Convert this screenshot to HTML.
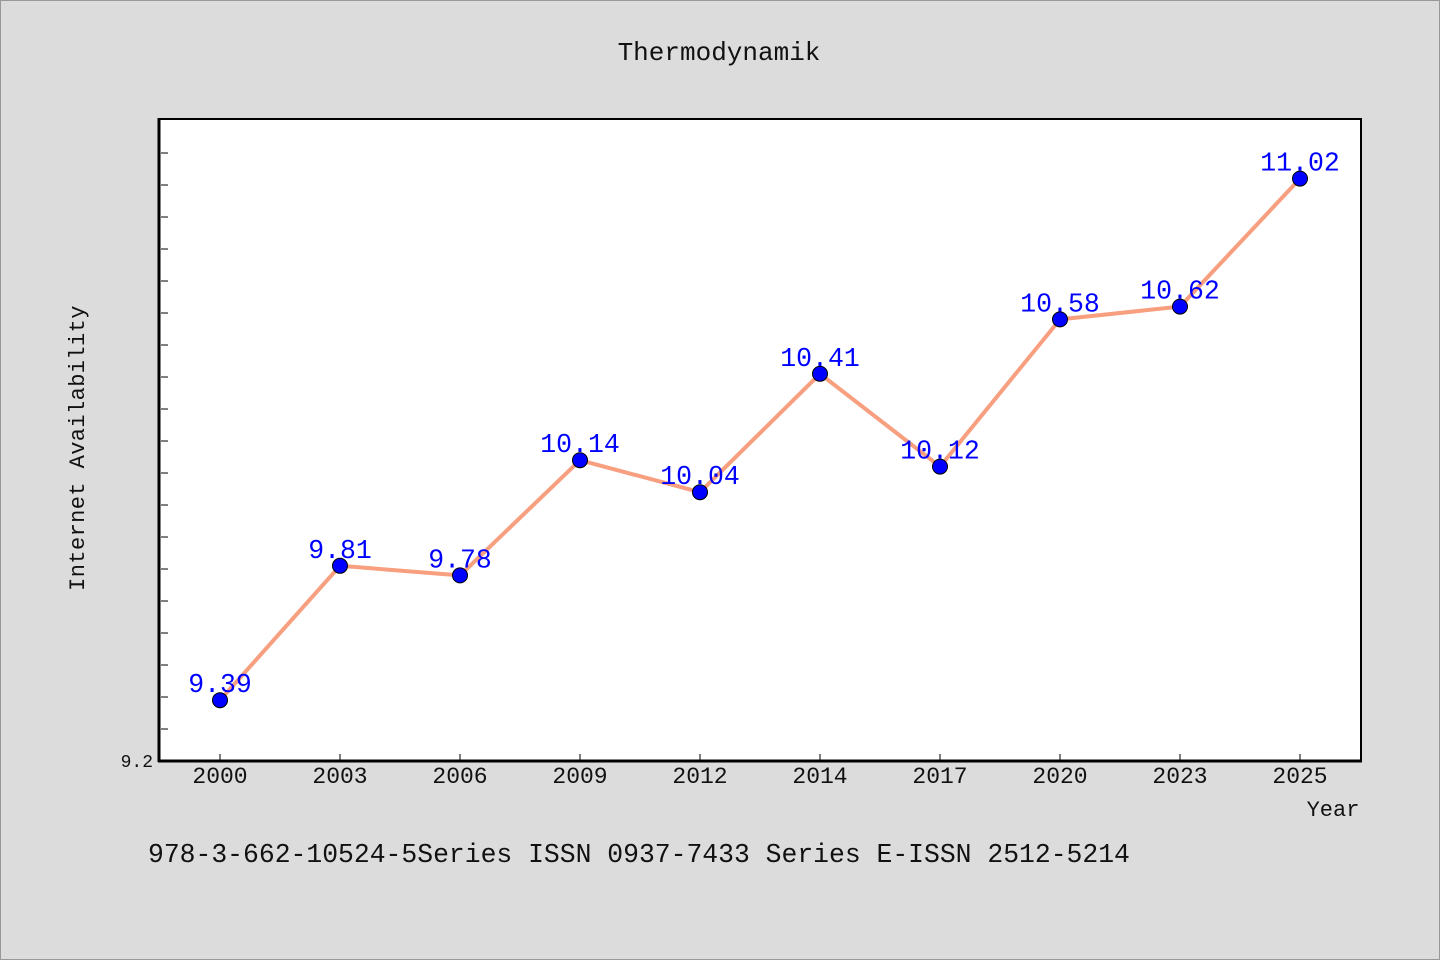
<!DOCTYPE html>
<html><head><meta charset="utf-8"><style>
html,body{margin:0;padding:0;background:#dcdcdc;}
svg{display:block;font-family:"Liberation Mono","WenQuanYi Zen Hei",monospace;}
</style></head><body>
<svg id="chart" width="1440" height="960">
<rect x="0.5" y="0.5" width="1439" height="959" fill="#dcdcdc" stroke="#999"/>
<text x="719" y="60" text-anchor="middle" font-size="26" fill="#111">Thermodynamik</text>
<rect x="159" y="119" width="1202" height="642" fill="#fff" stroke="#000" stroke-width="2"/>
<g id="ticks"></g>
<g id="series"></g>
<line x1="158" y1="761" x2="1362" y2="761" stroke="#000" stroke-width="3"/>
<line x1="159" y1="118" x2="159" y2="762" stroke="#000" stroke-width="3"/>
<text x="1333" y="816" text-anchor="middle" font-size="22" fill="#111">Year</text>
<text transform="translate(84,448) rotate(-90)" text-anchor="middle" font-size="22" fill="#111" letter-spacing="0.4">Internet Availability</text>
<text x="148" y="862" font-size="26.4" fill="#111">978-3-662-10524-5Series ISSN 0937-7433 Series E-ISSN 2512-5214</text>
</svg>
<script>
const categories=["2000","2003","2006","2009","2012","2014","2017","2020","2023","2025"];
const values=[9.39,9.81,9.78,10.14,10.04,10.41,10.12,10.58,10.62,11.02];
const valueLabels=["9.39","9.81","9.78","10.14","10.04","10.41","10.12","10.58","10.62","11.02"];
const yMin=9.2, yMax=11.2;
const yTickCount=20;
const NS="http://www.w3.org/2000/svg";
const plotLeft=160,bandW=120,plotBottom=761,plotTop=121;
function xPos(i){return plotLeft+bandW*(i+0.5);}
function yPos(v){return plotBottom-(v-yMin)/(yMax-yMin)*(plotBottom-plotTop);}
function mk(t,a,p){const e=document.createElementNS(NS,t);for(const k in a)e.setAttribute(k,a[k]);p.appendChild(e);return e;}
const tg=document.getElementById('ticks');
for(let i=0;i<yTickCount;i++){const v=yMin+i*0.1;const y=yPos(v);
 const l=mk('line',{x1:161,x2:168,y1:y,y2:y,stroke:'#000','stroke-width':1},tg);
 
 }
const yl=mk('text',{x:153,y:767,'text-anchor':'end','font-size':18,fill:'#111'},tg);yl.textContent="9.2";


categories.forEach((c,i)=>{const x=xPos(i);
 const l=mk('line',{x1:x,x2:x,y1:754,y2:761,stroke:'#000','stroke-width':1},tg);
 
 
 const t=mk('text',{x:x,y:783,'text-anchor':'middle','font-size':23,fill:'#111'},tg);t.textContent=c;
 
 });
const sg=document.getElementById('series');
const pts=values.map((v,i)=>xPos(i)+','+yPos(v)).join(' ');
const pl=mk('polyline',{points:pts,fill:'none',stroke:'#f79f7f','stroke-width':4,'stroke-linejoin':'round'},sg);


values.forEach((v,i)=>{const x=xPos(i),y=yPos(v);
 const c=mk('circle',{cx:x,cy:y,r:7.5,fill:'#0000ff',stroke:'#000','stroke-width':1},sg);
 
 
 const t=mk('text',{x:x,y:y-8,'text-anchor':'middle','font-size':26.5,fill:'#0000ff'},sg);t.textContent=valueLabels[i];
 
 });
</script>
</body></html>
